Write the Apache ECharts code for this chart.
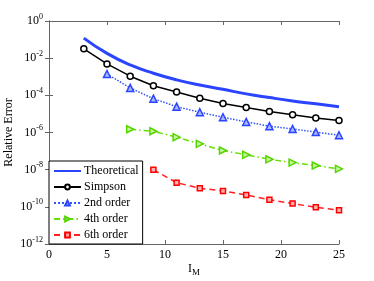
<!DOCTYPE html>
<html><head><meta charset="utf-8">
<script src="https://cdn.jsdelivr.net/npm/echarts@6/dist/echarts.min.js"></script>
<style>html,body{margin:0;padding:0;background:#fff}#c{width:374px;height:281px}</style>
</head><body><div id="c"></div>
<script>
const theoX = [3,5,7,9,11,13,15,17,19,21,23,25];
const theoY = [1.2e-1,1.8e-2,4.3e-3,1.55e-3,6.8e-4,3.6e-4,2.1e-4,1.2e-4,7.6e-5,5.0e-5,3.5e-5,2.45e-5];
const simpX = [3,5,7,9,11,13,15,17,19,21,23,25];
const simpY = [3.2e-2,4.9e-3,1.07e-3,3.3e-4,1.5e-4,6.9e-5,3.6e-5,2.2e-5,1.35e-5,8.9e-6,6.0e-6,4.4e-6];
const o2X = [5,7,9,11,13,15,17,19,21,23,25];
const o2Y = [1.4e-3,2.5e-4,6.6e-5,2.45e-5,1.23e-5,6.6e-6,3.7e-6,2.2e-6,1.55e-6,1.05e-6,7.1e-7];
const o4X = [7,9,11,13,15,17,19,21,23,25];
const o4Y = [1.5e-6,1.17e-6,5.6e-7,2.45e-7,1.07e-7,6.3e-8,3.6e-8,2.4e-8,1.66e-8,1.1e-8];
const o6X = [9,11,13,15,17,19,21,23,25];
const o6Y = [9.8e-9,2.0e-9,1.0e-9,7.2e-10,4.3e-10,2.4e-10,1.5e-10,9.5e-11,6.6e-11];
const xTicks = [0,5,10,15,20,25];
const yTickExps = [0,-2,-4,-6,-8,-10,-12];

const pairs = (xs, ys) => xs.map((x, i) => [x, ys[i]]);
const F = 'Liberation Serif';
const axisColor = '#666';

const chart = echarts.init(document.getElementById('c'), null, {renderer: 'canvas'});
const base = {type: 'line', showSymbol: true, animation: false};
chart.setOption({
  animation: false,
  textStyle: {fontFamily: F},
  grid: {left: 49, top: 21, right: 35, bottom: 37, containLabel: false, outerBoundsMode: 'none'},
  legend: {
    orient: 'vertical', left: 49, top: 161, padding: [4, 4, 3, 4],
    itemGap: 4, itemWidth: 27, itemHeight: 6,
    backgroundColor: '#fff', borderColor: '#000', borderWidth: 1,
    textStyle: {fontFamily: F, fontSize: 12, lineHeight: 12, color: '#000', padding: [0, 0, 0, -2]},
    data: [{name: 'Theoretical', itemStyle: {opacity: 0}}, 'Simpson', '2nd order', '4th order', '6th order']
  },
  xAxis: [{
    type: 'value', min: xTicks[0], max: xTicks[xTicks.length - 1], interval: 5,
    name: '{i|I}{s|M}', nameLocation: 'middle', nameGap: 16, nameMoveOverlap: false,
    nameTextStyle: {rich: {i: {fontFamily: F, fontSize: 12, color: '#000'}, s: {fontFamily: F, fontSize: 9, color: '#000', padding: [8, 0, 0, 0]}}},
    axisLine: {lineStyle: {color: axisColor}},
    axisTick: {inside: true, length: 4, lineStyle: {color: axisColor}},
    axisLabel: {fontFamily: F, fontSize: 12, color: '#000', margin: 5},
    splitLine: {show: false}
  }, {
    type: 'value', position: 'top', min: 0, max: 25, interval: 5,
    axisLine: {show: true, lineStyle: {color: axisColor}},
    axisTick: {inside: true, length: 4, lineStyle: {color: axisColor}},
    axisLabel: {show: false}, splitLine: {show: false}
  }],
  yAxis: [{
    type: 'log', logBase: 10, min: 1e-12, max: 1, interval: 2,
    name: 'Relative Error', nameLocation: 'middle', nameGap: 34, nameMoveOverlap: false,
    nameTextStyle: {fontFamily: F, fontSize: 12, color: '#000'},
    axisLine: {show: true, lineStyle: {color: axisColor}},
    axisTick: {inside: true, length: 4, lineStyle: {color: axisColor}},
    axisLabel: {
      margin: 6, color: '#000',
      formatter: v => { const e = Math.round(Math.log10(v)); return yTickExps.includes(e) ? '{b|10}{s|' + e + '}' : ''; },
      rich: {b: {fontFamily: F, fontSize: 12, color: '#000'}, s: {fontFamily: F, fontSize: 8, color: '#000', padding: [0, 0, 9, 0]}}
    },
    minorTick: {show: false}, splitLine: {show: false}
  }, {
    type: 'log', logBase: 10, min: 1e-12, max: 1, interval: 2, position: 'right',
    axisLine: {show: true, lineStyle: {color: axisColor}},
    axisTick: {inside: true, length: 4, lineStyle: {color: axisColor}},
    axisLabel: {show: false}, splitLine: {show: false}
  }],
  series: [
    Object.assign({}, base, {name: 'Theoretical', data: pairs(theoX, theoY), smooth: true, symbol: 'none',
      lineStyle: {color: '#2a44ff', width: 3}, itemStyle: {color: '#2a44ff'}}),
    Object.assign({}, base, {name: 'Simpson', data: pairs(simpX, simpY), symbol: 'circle', symbolSize: 6,
      lineStyle: {color: '#000', width: 1.5}, itemStyle: {color: '#fff', borderColor: '#000', borderWidth: 1.5}}),
    Object.assign({}, base, {name: '2nd order', data: pairs(o2X, o2Y), symbol: 'triangle', symbolSize: 7,
      lineStyle: {color: '#3355ff', width: 1.5, type: 'dotted'}, itemStyle: {color: '#aab8ff', borderColor: '#2a44ff', borderWidth: 1.5}}),
    Object.assign({}, base, {name: '4th order', data: pairs(o4X, o4Y), symbol: 'triangle', symbolSize: 7, symbolRotate: -90,
      lineStyle: {color: '#66e000', width: 1.5, type: [6, 3, 1.5, 3]}, itemStyle: {color: '#c8f5a0', borderColor: '#55d400', borderWidth: 1.5}}),
    Object.assign({}, base, {name: '6th order', data: pairs(o6X, o6Y), symbol: 'rect', symbolSize: 5,
      lineStyle: {color: '#ff2020', width: 1.5, type: [6, 4]}, itemStyle: {color: '#ffb0b0', borderColor: '#ff0000', borderWidth: 1.5}})
  ]
});
</script></body></html>
